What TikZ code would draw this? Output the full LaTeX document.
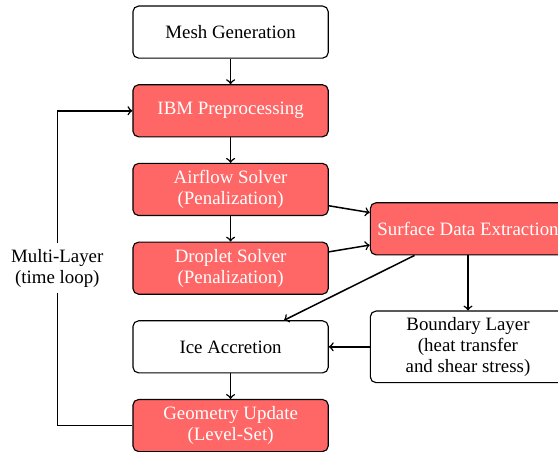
\documentclass[tikz,border=0pt]{standalone}
\usepackage{fontspec}
\setmainfont{Liberation Serif}
\usetikzlibrary{positioning,calc}

\begin{document}
\begin{tikzpicture}[x=1pt,y=1pt,node distance=13.5pt and 21.7pt]
    \tikzset{box/.style = {draw, semithick, rounded corners=3pt, minimum width=103.5pt,
                           minimum height=27.6pt, align=center, font=\fontsize{10}{11.1}\selectfont}}
    \tikzset{redbox/.style = {box, fill=red!60, text=white}}
    \tikzset{flow/.style = {->, thick}}
    \clip (0,0) rectangle (295.7,-239.5);
    \node[box] (mesh) at (122.2,-17) {Mesh Generation};
    \node[redbox, below=of mesh] (ibm) {IBM Preprocessing};
    \node[redbox, below=of ibm] (air) {Airflow Solver\\(Penalization)};
    \node[redbox, below=of air] (drop) {Droplet Solver\\(Penalization)};
    \node[box, below=of drop] (ice) {Ice Accretion};
    \node[redbox, below=of ice] (geo) {Geometry Update\\(Level-Set)};
    \coordinate (mid) at ($(air.east)!0.5!(drop.east)$);
    \node[redbox, right=of mid] (sde) {Surface Data Extraction};
    \node[box] (bl) at (sde |- ice) {Boundary Layer\\(heat transfer\\and shear stress)};
    \draw[flow] (mesh) -- (ibm);
    \draw[flow] (ibm) -- (air);
    \draw[flow] (air) -- (drop);
    \draw[flow] (air) -- (sde);
    \draw[flow] (drop) -- (sde);
    \draw[flow] (sde) -- (ice);
    \draw[flow] (sde) -- (bl);
    \draw[flow] (bl) -- (ice);
    \draw[flow] (ice) -- (geo);
    \draw[flow] (geo.west) -- ++(-39.8,0) |- node[pos=0.25, fill=white, align=center, font=\fontsize{10}{11.1}\selectfont] {Multi-Layer\\(time loop)} (ibm.west);
\end{tikzpicture}
\end{document}
